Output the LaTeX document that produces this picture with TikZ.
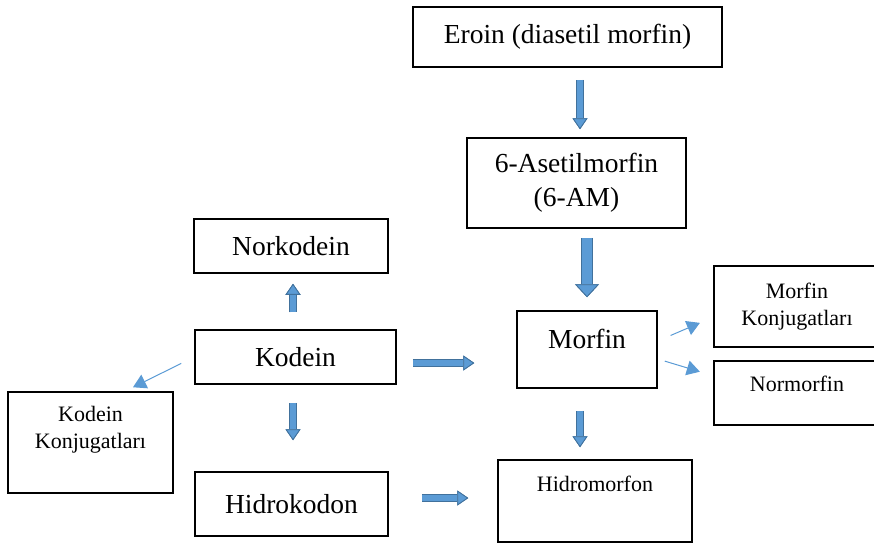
\documentclass[tikz,border=0pt]{standalone}
\usepackage{fontspec}
\setmainfont{Liberation Serif}
\usetikzlibrary{arrows.meta}
\definecolor{ArrowBlue}{RGB}{91,155,213}
\definecolor{ArrowEdge}{RGB}{65,113,156}
\newcommand{\bigtxt}{\fontsize{27.5}{34}\selectfont}
\newcommand{\smalltxt}{\fontsize{22}{27}\selectfont}

\begin{document}
\begin{tikzpicture}[
  x=1pt, y=-1pt,
  box/.style={draw=black, line width=1.5pt, fill=white, inner sep=0pt, align=center},
  smalltip/.tip={Triangle[width=15pt,length=11pt,fill=ArrowBlue,color=ArrowEdge,line width=0.8pt]},
  bigtip/.tip={Triangle[width=24pt,length=13pt,fill=ArrowBlue,color=ArrowEdge,line width=0.8pt]},
  blkarrow/.style={draw=ArrowBlue, line width=5.5pt, -smalltip, preaction={draw=ArrowEdge, line width=7.2pt, -smalltip}},
  bigarrow/.style={draw=ArrowBlue, line width=9.5pt, -bigtip, preaction={draw=ArrowEdge, line width=11.2pt, -bigtip}},
  thinarrow/.style={draw=ArrowBlue, line width=1pt, -{Triangle[width=15pt,length=13pt]}}
]
\useasboundingbox (0,0) rectangle (874,543);

\node[box, font=\bigtxt, minimum width=309, minimum height=60] (eroin) at (567.5,37) {Eroin (diasetil morfin)};
\node[box, font=\bigtxt, minimum width=219, minimum height=90] (asetil) at (576.5,183) {6-Asetilmorfin\\(6-AM)};
\node[box, font=\bigtxt, minimum width=194, minimum height=54] (norkodein) at (291,246) {Norkodein};
\node[box, font=\bigtxt, minimum width=201, minimum height=54] (kodein) at (295.5,357) {Kodein};
\node[box, font=\bigtxt, minimum width=140, minimum height=77, text height=18pt, text depth=21pt] (morfin) at (587,349.5) {Morfin};
\node[box, font=\smalltxt, minimum width=166, minimum height=81] (morfkonj) at (797,306.5) {Morfin\\Konjugatları};
\node[box, font=\smalltxt, minimum width=166, minimum height=64, text height=15pt, text depth=19pt] (normorfin) at (797,393) {Normorfin};
\node[box, font=\smalltxt, minimum width=165, minimum height=101, text depth=30pt] (kodkonj) at (90.5,442.5) {Kodein\\Konjugatları};
\node[box, font=\bigtxt, minimum width=193, minimum height=64] (hidrokodon) at (291.5,504) {Hidrokodon};
\node[box, font=\smalltxt, minimum width=194, minimum height=82, text height=15pt, text depth=34pt] (hidromorfon) at (595,501) {Hidromorfon};

% block arrows
\draw[blkarrow, shorten <=12pt, shorten >=8pt] ([xshift=12.5pt]eroin.south) -- ([xshift=12.5pt]eroin.south |- asetil.north);
\draw[bigarrow, shorten <=9pt, shorten >=13pt] (asetil.south -| morfin.north) -- (morfin.north);
\draw[blkarrow, shorten <=17pt, shorten >=10pt] ([xshift=-2.5pt]kodein.north) -- ([xshift=-2.5pt]kodein.north |- norkodein.south);
\draw[blkarrow, shorten <=16pt, shorten >=42pt] ([yshift=-6pt]kodein.east) -- ([yshift=-6pt]kodein.east -| morfin.west);
\draw[blkarrow, shorten <=18pt, shorten >=31pt] ([xshift=-2.5pt]kodein.south) -- ([xshift=-2.5pt]kodein.south |- hidrokodon.north);
\draw[blkarrow, shorten <=33pt, shorten >=29pt] ([yshift=6pt]hidrokodon.east) -- ([yshift=6pt]hidrokodon.east -| hidromorfon.west);
\draw[blkarrow, shorten <=22pt, shorten >=12pt] ([xshift=-7pt]morfin.south) -- ([xshift=-7pt]morfin.south |- hidromorfon.north);

% thin arrows
\draw[thinarrow, shorten <=14.5pt] (kodein.west) -- ([xshift=42.5pt,yshift=4pt]kodkonj.north);
\draw[thinarrow, shorten <=14pt, shorten >=11.8pt] ([yshift=8.5pt]morfin.east) -- ([xshift=-2.5pt,yshift=-11.7pt]morfkonj.west);
\draw[thinarrow, shorten <=7.3pt, shorten >=11.4pt] ([yshift=-9.5pt]morfin.east) -- ([xshift=-2.5pt,yshift=18pt]normorfin.west);
\end{tikzpicture}
\end{document}
